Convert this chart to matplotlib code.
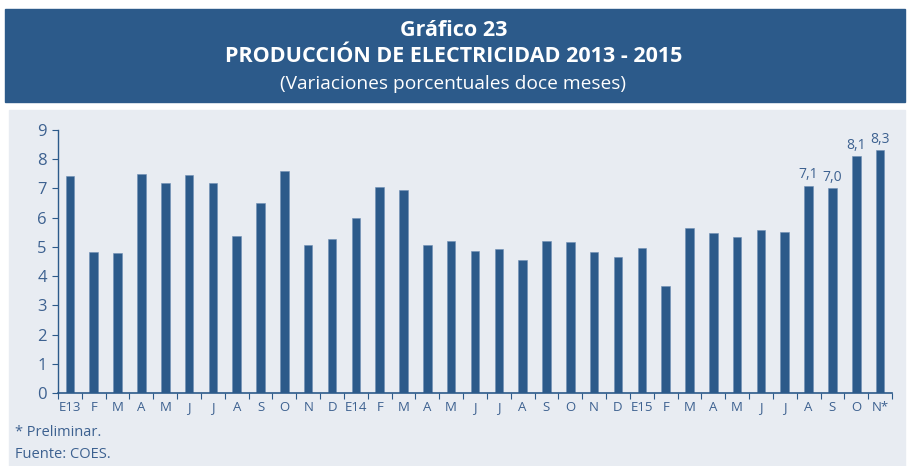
import matplotlib.pyplot as plt
from matplotlib.patches import Rectangle
import numpy as np

# datos del gráfico
meses = ["E13", "F", "M", "A", "M", "J", "J", "A", "S", "O", "N", "D",
         "E14", "F", "M", "A", "M", "J", "J", "A", "S", "O", "N", "D",
         "E15", "F", "M", "A", "M", "J", "J", "A", "S", "O", "N*"]
variacion = [7.43, 4.83, 4.80, 7.49, 7.19, 7.46, 7.18, 5.38, 6.50, 7.61, 5.07, 5.26,
             5.98, 7.05, 6.94, 5.07, 5.21, 4.86, 4.92, 4.56, 5.21, 5.17, 4.84, 4.67,
             4.95, 3.67, 5.65, 5.47, 5.33, 5.59, 5.50, 7.1, 7.0, 8.1, 8.3]
etiquetas = {31: "7,1", 32: "7,0", 33: "8,1", 34: "8,3"}

azul = "#2c5a8a"
texto = "#3d6190"
fondo = "#e8ecf2"

plt.rcParams["font.family"] = ["Open Sans", "DejaVu Sans"]

fig = plt.figure(figsize=(9.07, 4.66), dpi=100)
W, H = 907, 466

# cabecera azul y panel gris (detrás de los ejes)
fig.patches.append(Rectangle((5 / W, 1 - 102 / H), 900 / W, 93 / H,
                             transform=fig.transFigure, color=azul, zorder=-10))
fig.patches.append(Rectangle((9 / W, 0), 896 / W, 1 - 110 / H,
                             transform=fig.transFigure, color=fondo, zorder=-10))

fig.text(0.5, 1 - 30 / H, "Gráfico 23", ha="center", va="center",
         color="white", fontsize=15.5, fontweight="bold")
fig.text(0.5, 1 - 57 / H, "PRODUCCIÓN DE ELECTRICIDAD 2013 - 2015", ha="center",
         va="center", color="white", fontsize=15.5, fontweight="bold")
fig.text(0.5, 1 - 84 / H, "(Variaciones porcentuales doce meses)", ha="center",
         va="center", color="white", fontsize=13.8)

ax = fig.add_axes([58 / W, 1 - 393 / H, 834 / W, 263 / H])
ax.set_facecolor("none")
x = np.arange(len(variacion))
ax.bar(x, variacion, width=0.36, color=azul, edgecolor="#6f8fb5", linewidth=0.4)

for i, t in etiquetas.items():
    ax.text(i, variacion[i] + 0.12, t, ha="center", va="bottom",
            color=texto, fontsize=10)

ax.set_xlim(-0.5, len(variacion) - 0.5)
ax.set_ylim(0, 9)
ax.set_yticks(range(0, 10))
ax.set_xticks(np.arange(-0.5, len(variacion)), minor=False)
ax.set_xticklabels([])
ax.set_xticks(x, minor=True)
ax.set_xticklabels(meses, minor=True, fontsize=9.5, color=texto)
ax.tick_params(axis="x", which="minor", length=0, pad=6)
ax.tick_params(axis="x", which="major", length=4, color=azul, direction="out")
ax.tick_params(axis="y", length=4, color=azul, labelsize=12, labelcolor=texto, pad=4)

for s in ["top", "right"]:
    ax.spines[s].set_visible(False)
ax.spines["left"].set_color(azul)
ax.spines["bottom"].set_color(azul)
ax.spines["left"].set_linewidth(1.0)
ax.spines["bottom"].set_linewidth(1.2)

fig.text(15 / W, 1 - 433 / H, "* Preliminar.", ha="left", va="center",
         color=texto, fontsize=10.5)
fig.text(15 / W, 1 - 455 / H, "Fuente: COES.", ha="left", va="center",
         color=texto, fontsize=10.5)

fig.savefig("out.png", dpi=100)
